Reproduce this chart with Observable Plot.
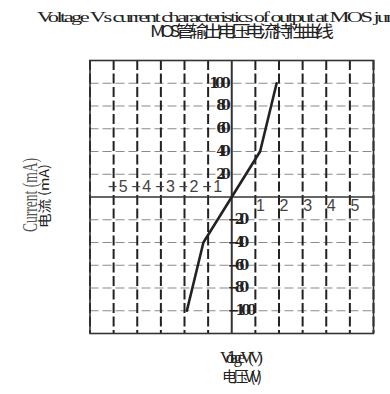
<!DOCTYPE html>
<html>
<head>
<meta charset="utf-8">
<script src="https://cdn.jsdelivr.net/npm/d3@7"></script>
<script src="https://cdn.jsdelivr.net/npm/@observablehq/plot@0.6"></script>
<style>
  html, body { margin: 0; padding: 0; background: #fff; }
  #chart { position: relative; width: 390px; height: 394px; }
</style>
</head>
<body>
<div id="chart"></div>
<script>
// ---- data ----
const voltage = [-1.9, -1.2, 0, 1.2, 1.9];
const current = [-100, -40, 0, 40, 100];
const xGrid = [-6, -5, -4, -3, -2, -1, 1, 2, 3, 4, 5, 6];
const yGrid = [-120, -100, -80, -60, -40, -20, 20, 40, 60, 80, 100, 120];
const xTicksNeg = [-5, -4, -3, -2, -1];
const xTicksPos = [1, 2, 3, 4, 5];
const yTicksPos = [20, 40, 60, 80, 100];
const yTicksNeg = [-20, -40, -60, -80, -100];
const titleEn = "Voltage Vs current characteristics of output at MOS junction";
const titleZh = "MOS管输出电压电流特性曲线";
const xLabelEn = "Voltage V(V)";
const xLabelZh = "电压V(V)";
const yLabelEn = "Current (mA)";
const yLabelZh = "电流 (mA)";

const pts = voltage.map((v, i) => ({v, c: current[i]}));
const fmt = d => (d < 0 ? "−" : "") + Math.abs(d);

const plot = Plot.plot({
  width: 390,
  height: 394,
  marginLeft: 89.5,
  marginRight: 17,
  marginTop: 60,
  marginBottom: 61,
  style: {background: "#fff", overflow: "visible"},
  x: {domain: [-6, 6], axis: null},
  y: {domain: [-120, 120], axis: null},
  marks: [
    Plot.ruleY(yGrid, {stroke: "#8a8a8a", strokeWidth: 1.2, strokeDasharray: "9,4"}),
    Plot.ruleX(xGrid, {stroke: "#222", strokeWidth: 2, strokeDasharray: "10,3.5"}),
    Plot.frame({stroke: "#333", strokeWidth: 1.6}),
    Plot.ruleX([0], {stroke: "#333", strokeWidth: 2}),
    Plot.ruleY([0], {stroke: "#333", strokeWidth: 1.6}),
    Plot.line(pts, {x: "v", y: "c", stroke: "#222", strokeWidth: 2.6}),
    Plot.text(yTicksPos, {x: 0, y: d => d, text: d => String(d), textAnchor: "end", dx: -1,
      fontSize: 14, fontWeight: "bold", fontFamily: "DejaVu Serif", fill: "#222", className: "ytl"}),
    Plot.text(yTicksNeg, {x: 0, y: d => d, text: fmt, textAnchor: "start", dx: -4,
      fontSize: 14, fontWeight: "bold", fontFamily: "DejaVu Serif", fill: "#222", className: "ytl"}),
    Plot.text(xTicksNeg, {x: d => d, y: 0, text: fmt, textAnchor: "middle", dx: 4, dy: -10,
      fontSize: 16, fontFamily: "Liberation Sans", fill: "#444", className: "xtl"}),
    Plot.text(xTicksPos, {x: d => d, y: 0, text: d => String(d), textAnchor: "middle", dx: 5, dy: 9,
      fontSize: 16, fontFamily: "Liberation Sans", fill: "#444", className: "xtl"})
  ]
});
document.getElementById("chart").appendChild(plot);

const svg = d3.select(plot);
// squeeze y tick labels so the glyphs overlap
svg.selectAll(".ytl text").each(function() {
  const t = d3.select(this);
  const n = t.text().length;
  t.attr("textLength", n * 7.2).attr("lengthAdjust", "spacing");
});
svg.selectAll(".xtl text").each(function() {
  const t = d3.select(this);
  const n = t.text().length;
  t.attr("textLength", n * 10).attr("lengthAdjust", "spacing");
});

// text with wide glyphs but tight spacing (glyphs overlap)
function addText(txt, x, y, len, size, opts = {}) {
  const sx = opts.sx || 1;
  const el = svg.append("text")
    .attr("x", x).attr("y", y)
    .attr("font-size", size)
    .attr("font-family", opts.family || "Liberation Serif, DejaVu Serif, serif")
    .attr("fill", opts.fill || "#222")
    .attr("text-anchor", opts.anchor || "start")
    .attr("textLength", len / sx)
    .attr("lengthAdjust", opts.adjust || "spacing")
    .text(txt);
  if (opts.weight) el.attr("font-weight", opts.weight);
  let tr = "";
  if (opts.rotate) tr += `rotate(${opts.rotate},${x},${y}) `;
  if (sx !== 1) tr += `translate(${x},${y}) scale(${sx},1) translate(${-x},${-y})`;
  if (tr) el.attr("transform", tr);
  return el;
}
addText(titleEn, 37, 22, 392, 15, {sx: 1.5});
addText(titleZh, 150, 37, 184, 16, {family: "Noto Sans CJK SC", sx: 1.2});
addText(xLabelEn, 220, 363, 43, 17);
addText(xLabelZh, 222, 382, 40, 15, {family: "Noto Sans CJK SC"});
addText(yLabelEn, 37, 232, 74, 21, {rotate: -90, fill: "#555", adjust: "spacingAndGlyphs"});
addText(yLabelZh, 49, 228, 64, 13, {rotate: -90, family: "Noto Sans CJK SC", adjust: "spacingAndGlyphs"});
</script>
</body>
</html>
